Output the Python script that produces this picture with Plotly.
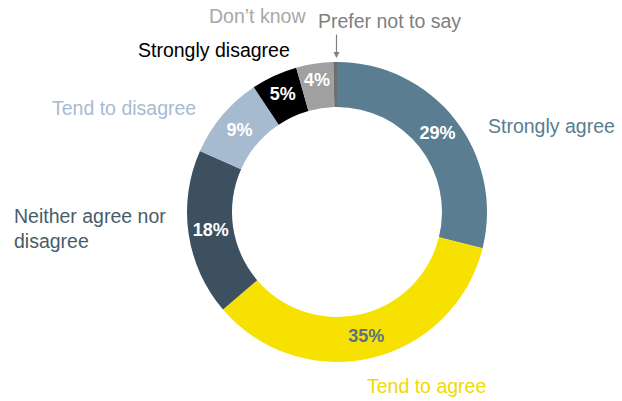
import plotly.graph_objects as go

# Survey response shares, clockwise from 12 o'clock
categories = ["Strongly agree", "Tend to agree", "Neither agree nor disagree",
              "Tend to disagree", "Strongly disagree", "Don’t know", "Prefer not to say"]
values = [29, 35, 18, 9, 5, 4, 0.4]
value_labels = ["29%", "35%", "18%", "9%", "5%", "4%", ""]

slice_colors = ["#5a7d91", "#f7e100", "#3c5060", "#a7bbd0", "#000000", "#a0a0a0", "#6e6e6e"]
inside_text_colors = ["#ffffff", "#5b7382", "#ffffff", "#ffffff", "#ffffff", "#ffffff", "#ffffff"]

W, H = 622, 401
cx, cy, r = 337, 212, 150

fig = go.Figure(go.Pie(
    labels=categories,
    values=values,
    text=value_labels,
    textinfo="text",
    textposition="inside",
    insidetextorientation="horizontal",
    insidetextfont=dict(family="Liberation Sans, Arial, sans-serif", size=18,
                        color=inside_text_colors, weight="bold"),
    marker=dict(colors=slice_colors, line=dict(width=0)),
    hole=0.70,
    sort=False,
    direction="clockwise",
    rotation=0,
    showlegend=False,
    domain=dict(x=[(cx - r) / W, (cx + r) / W], y=[1 - (cy + r) / H, 1 - (cy - r) / H]),
))

font_family = "Liberation Sans, Arial, sans-serif"
label_size = 19.5

# Category labels placed around the ring
outer_labels = [
    ("Strongly agree", 486, 126, "left", "#5a7d91"),
    ("Tend to agree", 365, 386, "left", "#f2d900"),
    ("Neither agree nor<br>disagree", 12, 228, "left", "#485c6b"),
    ("Tend to disagree", 50, 108, "left", "#a7bbd0"),
    ("Strongly disagree", 136, 50, "left", "#000000"),
    ("Don’t know", 207, 16, "left", "#a8a8a8"),
    ("Prefer not to say", 316, 21, "left", "#808080"),
]

annotations = []
for text, x, y, anchor, color in outer_labels:
    annotations.append(dict(
        text=text, x=x / W, y=1 - y / H, xref="paper", yref="paper",
        xanchor=anchor, yanchor="middle", align="left", showarrow=False,
        font=dict(family=font_family, size=label_size, color=color),
    ))

# Pointer to the thin "Prefer not to say" slice
annotations.append(dict(
    text="", x=336.5 / W, y=1 - 58 / H, xref="paper", yref="paper",
    showarrow=True, ax=0, ay=-25, arrowhead=2, arrowsize=1, arrowwidth=1.2,
    arrowcolor="#808080",
))

fig.update_layout(
    width=W, height=H,
    margin=dict(l=0, r=0, t=0, b=0),
    paper_bgcolor="#ffffff",
    plot_bgcolor="#ffffff",
    annotations=annotations,
)

fig.write_html("out.html")
